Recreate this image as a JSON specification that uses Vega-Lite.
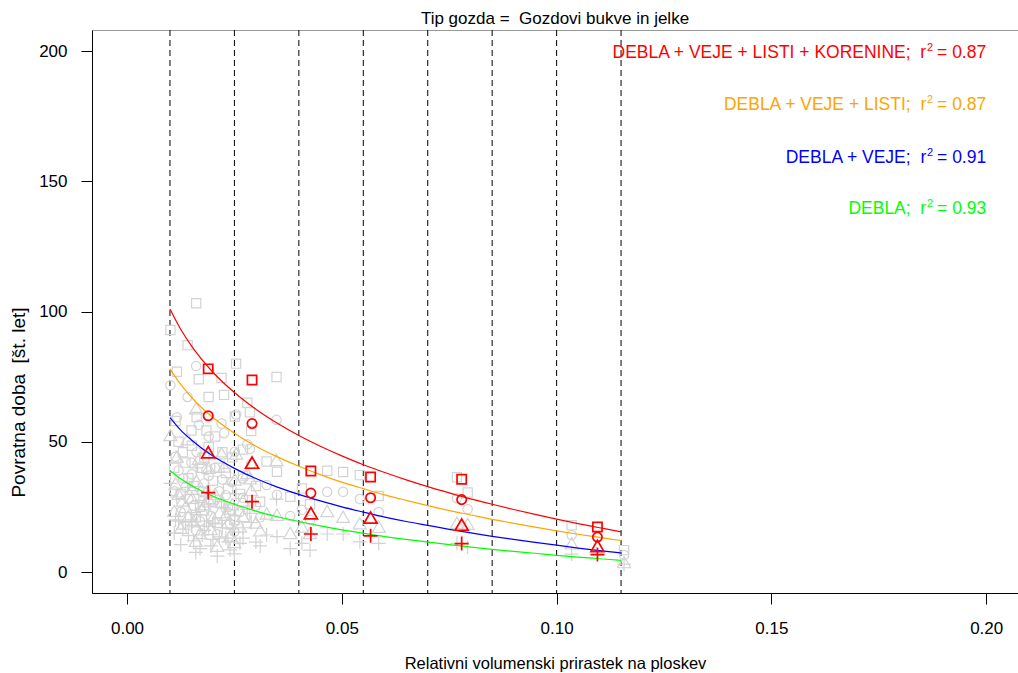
{
  "$schema": "https://vega.github.io/schema/vega-lite/v6.json",
  "width": 926,
  "height": 563,
  "autosize": {"type": "none"},
  "padding": {"left": 92, "top": 30, "right": 0, "bottom": 80},
  "background": "white",
  "title": {
    "text": "Tip gozda = \u00a0Gozdovi bukve in jelke",
    "fontSize": 17,
    "fontWeight": "normal",
    "font": "Liberation Sans",
    "color": "black",
    "anchor": "middle",
    "offset": 2
  },
  "config": {
    "font": "Liberation Sans",
    "view": {"stroke": "#999999", "strokeWidth": 1},
    "axis": {
      "grid": false,
      "labelFont": "Liberation Sans",
      "labelColor": "black",
      "labelFontSize": 17,
      "tickColor": "black",
      "tickSize": 11,
      "domainColor": "black",
      "titleFont": "Liberation Sans",
      "titleFontWeight": "normal",
      "titleColor": "black"
    }
  },
  "datasets": {
    "breaks": [
      {"x": 0.010}, {"x": 0.025}, {"x": 0.040}, {"x": 0.055},
      {"x": 0.070}, {"x": 0.085}, {"x": 0.100}, {"x": 0.115}
    ],
    "plots": [
      {"x": 0.0101, "sq": 92.9, "ci": 71.7, "tr": 52.6, "pl": 34.0},
      {"x": 0.0161, "sq": 103.2, "ci": 79.1, "tr": 62.9, "pl": 40.0},
      {"x": 0.0141, "sq": 87.1, "ci": 67.2, "tr": 51.0, "pl": 32.5},
      {"x": 0.0116, "sq": 76.9, "ci": 59.4, "tr": 44.3, "pl": 28.8},
      {"x": 0.0254, "sq": 80.0, "ci": 60.5, "tr": 45.5, "pl": 30.0},
      {"x": 0.0348, "sq": 74.9, "ci": 58.4, "tr": 43.0, "pl": 28.0},
      {"x": 0.0167, "sq": 74.0, "ci": 56.5, "tr": 43.5, "pl": 27.5},
      {"x": 0.0220, "sq": 74.5, "ci": 57.0, "tr": 45.6, "pl": 27.0},
      {"x": 0.0190, "sq": 67.2, "ci": 52.0, "tr": 40.0, "pl": 25.0},
      {"x": 0.0226, "sq": 68.0, "ci": 53.3, "tr": 40.5, "pl": 24.5},
      {"x": 0.0280, "sq": 65.0, "ci": 49.0, "tr": 38.0, "pl": 24.0},
      {"x": 0.0286, "sq": 61.3, "ci": 47.2, "tr": 36.0, "pl": 22.5},
      {"x": 0.0162, "sq": 59.5, "ci": 46.0, "tr": 35.0, "pl": 22.0},
      {"x": 0.0251, "sq": 59.7, "ci": 46.2, "tr": 35.5, "pl": 21.5},
      {"x": 0.0150, "sq": 54.3, "ci": 42.0, "tr": 32.0, "pl": 20.0},
      {"x": 0.0185, "sq": 54.3, "ci": 39.2, "tr": 31.0, "pl": 19.5},
      {"x": 0.0289, "sq": 54.1, "ci": 41.5, "tr": 31.5, "pl": 19.0},
      {"x": 0.0151, "sq": 48.5, "ci": 37.5, "tr": 28.5, "pl": 18.0},
      {"x": 0.0222, "sq": 46.0, "ci": 35.5, "tr": 27.0, "pl": 17.0},
      {"x": 0.0136, "sq": 42.0, "ci": 32.5, "tr": 25.0, "pl": 19.1},
      {"x": 0.0325, "sq": 42.4, "ci": 33.4, "tr": 22.5, "pl": 14.2},
      {"x": 0.0349, "sq": 38.5, "ci": 29.6, "tr": 22.0, "pl": 13.6},
      {"x": 0.0466, "sq": 38.9, "ci": 30.8, "tr": 23.4, "pl": 14.6},
      {"x": 0.0503, "sq": 38.4, "ci": 30.8, "tr": 21.2, "pl": 14.6},
      {"x": 0.0380, "sq": 28.9, "ci": 21.5, "tr": 15.0, "pl": 9.0},
      {"x": 0.0210, "sq": 18.9, "ci": 14.5, "tr": 10.1, "pl": 6.1},
      {"x": 0.0407, "sq": 32.1, "ci": 23.9, "tr": 17.5, "pl": 11.0},
      {"x": 0.0113, "sq": 58.0, "ci": 44.3, "tr": 34.0, "pl": 20.0},
      {"x": 0.0143, "sq": 36.0, "ci": 28.0, "tr": 21.5, "pl": 14.0},
      {"x": 0.0175, "sq": 40.0, "ci": 31.0, "tr": 24.0, "pl": 14.2},
      {"x": 0.0200, "sq": 35.0, "ci": 27.0, "tr": 21.0, "pl": 12.5},
      {"x": 0.0235, "sq": 32.0, "ci": 25.0, "tr": 19.0, "pl": 11.5},
      {"x": 0.0263, "sq": 30.0, "ci": 23.0, "tr": 17.5, "pl": 11.0},
      {"x": 0.0195, "sq": 28.0, "ci": 21.5, "tr": 16.5, "pl": 10.0},
      {"x": 0.0170, "sq": 25.0, "ci": 19.5, "tr": 15.0, "pl": 9.0},
      {"x": 0.0240, "sq": 24.0, "ci": 18.5, "tr": 14.0, "pl": 8.5},
      {"x": 0.0310, "sq": 27.0, "ci": 21.0, "tr": 16.0, "pl": 10.0},
      {"x": 0.0426, "sq": 26.0, "ci": 20.0, "tr": 15.0, "pl": 8.4},
      {"x": 0.0542, "sq": 37.2, "ci": 28.0, "tr": 18.7, "pl": 11.6},
      {"x": 0.0586, "sq": 29.2, "ci": 23.0, "tr": 17.4, "pl": 11.0},
      {"x": 0.0768, "sq": 36.4, "ci": 28.3, "tr": 18.9, "pl": 11.0},
      {"x": 0.0793, "sq": 30.5, "ci": 24.1, "tr": 18.5, "pl": 9.5},
      {"x": 0.1035, "sq": 18.0, "ci": 14.2, "tr": 11.0, "pl": 6.9},
      {"x": 0.1157, "sq": 8.4, "ci": 6.5, "tr": 3.8, "pl": 3.0},
      {"x": 0.0120, "sq": 50.0, "ci": 39.0, "tr": 30.0, "pl": 19.5},
      {"x": 0.0130, "sq": 46.0, "ci": 36.0, "tr": 27.5, "pl": 16.5},
      {"x": 0.0155, "sq": 33.0, "ci": 25.5, "tr": 19.5, "pl": 12.0},
      {"x": 0.0180, "sq": 44.0, "ci": 34.0, "tr": 26.0, "pl": 16.0},
      {"x": 0.0205, "sq": 52.0, "ci": 40.0, "tr": 30.0, "pl": 18.5},
      {"x": 0.0215, "sq": 40.0, "ci": 31.0, "tr": 23.0, "pl": 13.5},
      {"x": 0.0230, "sq": 38.0, "ci": 29.5, "tr": 22.0, "pl": 13.0},
      {"x": 0.0245, "sq": 44.0, "ci": 34.5, "tr": 26.0, "pl": 16.5},
      {"x": 0.0270, "sq": 37.0, "ci": 28.5, "tr": 21.5, "pl": 13.0},
      {"x": 0.0300, "sq": 33.0, "ci": 25.5, "tr": 19.0, "pl": 11.5},
      {"x": 0.0125, "sq": 30.0, "ci": 23.0, "tr": 17.0, "pl": 10.5},
      {"x": 0.0160, "sq": 21.0, "ci": 16.0, "tr": 12.0, "pl": 7.5},
      {"x": 0.0250, "sq": 20.0, "ci": 15.5, "tr": 11.5, "pl": 7.0},
      {"x": 0.0110, "sq": 40.0, "ci": 31.0, "tr": 23.5, "pl": 15.0},
      {"x": 0.0190, "sq": 48.0, "ci": 37.0, "tr": 28.0, "pl": 17.5},
      {"x": 0.0270, "sq": 47.0, "ci": 36.0, "tr": 27.5, "pl": 17.0}
    ],
    "means": [
      {"x": 0.0189, "sq": 78.0, "ci": 60.0, "tr": 46.0, "pl": 30.5},
      {"x": 0.0291, "sq": 73.7, "ci": 57.0, "tr": 42.0, "pl": 27.0},
      {"x": 0.0428, "sq": 38.8, "ci": 30.3, "tr": 22.6, "pl": 14.6},
      {"x": 0.0567, "sq": 36.5, "ci": 28.5, "tr": 20.9, "pl": 13.9},
      {"x": 0.0779, "sq": 35.6, "ci": 27.8, "tr": 18.2, "pl": 10.9},
      {"x": 0.1095, "sq": 17.3, "ci": 13.4, "tr": 10.0, "pl": 6.7}
    ],
    "fits": [
      {"x": 0.0100, "sq": 101.0, "ci": 78.0, "tr": 59.3, "pl": 38.9},
      {"x": 0.0125, "sq": 93.2, "ci": 72.0, "tr": 54.5, "pl": 35.8},
      {"x": 0.0150, "sq": 86.8, "ci": 67.1, "tr": 50.7, "pl": 33.2},
      {"x": 0.0200, "sq": 76.7, "ci": 59.3, "tr": 44.5, "pl": 29.1},
      {"x": 0.0250, "sq": 68.9, "ci": 53.3, "tr": 39.8, "pl": 26.0},
      {"x": 0.0300, "sq": 62.5, "ci": 48.3, "tr": 35.9, "pl": 23.4},
      {"x": 0.0350, "sq": 57.1, "ci": 44.2, "tr": 32.6, "pl": 21.2},
      {"x": 0.0400, "sq": 52.4, "ci": 40.6, "tr": 29.8, "pl": 19.4},
      {"x": 0.0450, "sq": 48.3, "ci": 37.4, "tr": 27.3, "pl": 17.7},
      {"x": 0.0500, "sq": 44.6, "ci": 34.5, "tr": 25.0, "pl": 16.2},
      {"x": 0.0550, "sq": 41.2, "ci": 32.0, "tr": 23.0, "pl": 14.9},
      {"x": 0.0600, "sq": 38.2, "ci": 29.6, "tr": 21.1, "pl": 13.6},
      {"x": 0.0650, "sq": 35.4, "ci": 27.5, "tr": 19.4, "pl": 12.5},
      {"x": 0.0700, "sq": 32.8, "ci": 25.5, "tr": 17.9, "pl": 11.5},
      {"x": 0.0750, "sq": 30.4, "ci": 23.6, "tr": 16.4, "pl": 10.5},
      {"x": 0.0800, "sq": 28.1, "ci": 21.9, "tr": 15.0, "pl": 9.6},
      {"x": 0.0850, "sq": 26.0, "ci": 20.2, "tr": 13.7, "pl": 8.7},
      {"x": 0.0900, "sq": 24.0, "ci": 18.7, "tr": 12.5, "pl": 7.9},
      {"x": 0.0950, "sq": 22.1, "ci": 17.2, "tr": 11.4, "pl": 7.2},
      {"x": 0.1000, "sq": 20.3, "ci": 15.8, "tr": 10.3, "pl": 6.4},
      {"x": 0.1050, "sq": 18.6, "ci": 14.5, "tr": 9.2, "pl": 5.7},
      {"x": 0.1100, "sq": 17.0, "ci": 13.3, "tr": 8.2, "pl": 5.1},
      {"x": 0.1150, "sq": 15.4, "ci": 12.1, "tr": 7.3, "pl": 4.5}
    ],
    "keys": [
      {"y": 199.3, "comp": "sq", "lab": "DEBLA + VEJE + LISTI + KORENINE; \u00a0r", "r2": "= 0.87"},
      {"y": 179.2, "comp": "ci", "lab": "DEBLA + VEJE + LISTI; \u00a0r", "r2": "= 0.87"},
      {"y": 159.1, "comp": "tr", "lab": "DEBLA + VEJE; \u00a0r", "r2": "= 0.91"},
      {"y": 139.3, "comp": "pl", "lab": "DEBLA; \u00a0r", "r2": "= 0.93"}
    ]
  },
  "layer": [
    {
      "data": {"name": "breaks"},
      "mark": {"type": "rule", "color": "black", "strokeWidth": 1, "strokeDash": [6, 4]},
      "encoding": {
        "x": {
          "field": "x", "type": "quantitative",
          "scale": {"domain": [-0.00815, 0.2074], "nice": false, "zero": false},
          "title": "Relativni volumenski prirastek na ploskev",
          "axis": {
            "values": [0, 0.05, 0.1, 0.15, 0.2],
            "format": ".2f",
            "labelPadding": 16,
            "labelFlush": false,
            "labelOverlap": false,
            "titleFontSize": 16.5,
            "titleBaseline": "middle",
            "titleY": 70
          }
        }
      }
    },
    {
      "data": {"name": "plots"},
      "encoding": {
        "x": {"field": "x", "type": "quantitative", "title": "Relativni volumenski prirastek na ploskev"}
      },
      "layer": [
        {
          "mark": {"type": "point", "shape": "square", "size": 85, "filled": false, "color": "#d3d3d3", "strokeWidth": 1.2, "opacity": 1},
          "encoding": {
            "y": {
              "field": "sq", "type": "quantitative",
              "scale": {"domain": [-8.06, 208.1], "nice": false, "zero": false},
              "title": "Povratna doba \u00a0[št. let]",
              "axis": {
                "values": [0, 50, 100, 150, 200],
                "labelPadding": 14,
                "labelFlush": false,
                "titleFontSize": 19,
                "titleAngle": -90,
                "titleAlign": "center",
                "titleBaseline": "middle",
                "titleX": -74,
                "titleY": 372
              }
            }
          }
        },
        {
          "mark": {"type": "point", "shape": "circle", "size": 88, "filled": false, "color": "#d3d3d3", "strokeWidth": 1.2, "opacity": 1},
          "encoding": {"y": {"field": "ci", "type": "quantitative", "title": "Povratna doba \u00a0[št. let]"}}
        },
        {
          "mark": {"type": "point", "shape": "triangle-up", "size": 170, "filled": false, "color": "#d3d3d3", "strokeWidth": 1.2, "opacity": 1},
          "encoding": {"y": {"field": "tr", "type": "quantitative", "title": "Povratna doba \u00a0[št. let]"}}
        },
        {
          "mark": {"type": "point", "shape": "M-1,0L1,0M0,-1L0,1", "size": 196, "filled": false, "color": "#d3d3d3", "strokeWidth": 1.2, "opacity": 1},
          "encoding": {"y": {"field": "pl", "type": "quantitative", "title": "Povratna doba \u00a0[št. let]"}}
        }
      ]
    },
    {
      "data": {"name": "fits"},
      "transform": [{"fold": ["sq", "ci", "tr", "pl"], "as": ["comp", "v"]}],
      "mark": {"type": "line", "strokeWidth": 1.2, "interpolate": "monotone"},
      "encoding": {
        "x": {"field": "x", "type": "quantitative", "title": "Relativni volumenski prirastek na ploskev"},
        "y": {"field": "v", "type": "quantitative", "title": "Povratna doba \u00a0[št. let]"},
        "color": {
          "field": "comp", "type": "nominal", "legend": null,
          "scale": {"domain": ["sq", "ci", "tr", "pl"], "range": ["#ff0000", "#ffa500", "#0000ff", "#00ff00"]}
        }
      }
    },
    {
      "data": {"name": "means"},
      "encoding": {
        "x": {"field": "x", "type": "quantitative", "title": "Relativni volumenski prirastek na ploskev"}
      },
      "layer": [
        {
          "mark": {"type": "point", "shape": "square", "size": 85, "filled": false, "color": "#ff0000", "strokeWidth": 1.7, "opacity": 1},
          "encoding": {"y": {"field": "sq", "type": "quantitative", "title": "Povratna doba \u00a0[št. let]"}}
        },
        {
          "mark": {"type": "point", "shape": "circle", "size": 88, "filled": false, "color": "#ff0000", "strokeWidth": 1.7, "opacity": 1},
          "encoding": {"y": {"field": "ci", "type": "quantitative", "title": "Povratna doba \u00a0[št. let]"}}
        },
        {
          "mark": {"type": "point", "shape": "triangle-up", "size": 170, "filled": false, "color": "#ff0000", "strokeWidth": 1.7, "opacity": 1},
          "encoding": {"y": {"field": "tr", "type": "quantitative", "title": "Povratna doba \u00a0[št. let]"}}
        },
        {
          "mark": {"type": "point", "shape": "M-1,0L1,0M0,-1L0,1", "size": 196, "filled": false, "color": "#ff0000", "strokeWidth": 1.7, "opacity": 1},
          "encoding": {"y": {"field": "pl", "type": "quantitative", "title": "Povratna doba \u00a0[št. let]"}}
        }
      ]
    },
    {
      "data": {"name": "keys"},
      "mark": {"type": "text", "align": "right", "baseline": "middle", "fontSize": 17.5, "font": "Liberation Sans", "dx": -60},
      "encoding": {
        "x": {"datum": 0.2, "type": "quantitative"},
        "y": {"field": "y", "type": "quantitative", "title": "Povratna doba \u00a0[št. let]"},
        "text": {"field": "lab"},
        "color": {"field": "comp", "type": "nominal", "legend": null}
      }
    },
    {
      "data": {"name": "keys"},
      "mark": {"type": "text", "align": "right", "baseline": "middle", "fontSize": 11, "font": "Liberation Sans", "dx": -53, "dy": -5},
      "encoding": {
        "x": {"datum": 0.2, "type": "quantitative"},
        "y": {"field": "y", "type": "quantitative", "title": "Povratna doba \u00a0[št. let]"},
        "text": {"value": "2"},
        "color": {"field": "comp", "type": "nominal", "legend": null}
      }
    },
    {
      "data": {"name": "keys"},
      "mark": {"type": "text", "align": "right", "baseline": "middle", "fontSize": 17.5, "font": "Liberation Sans"},
      "encoding": {
        "x": {"datum": 0.2, "type": "quantitative"},
        "y": {"field": "y", "type": "quantitative", "title": "Povratna doba \u00a0[št. let]"},
        "text": {"field": "r2"},
        "color": {"field": "comp", "type": "nominal", "legend": null}
      }
    }
  ]
}
